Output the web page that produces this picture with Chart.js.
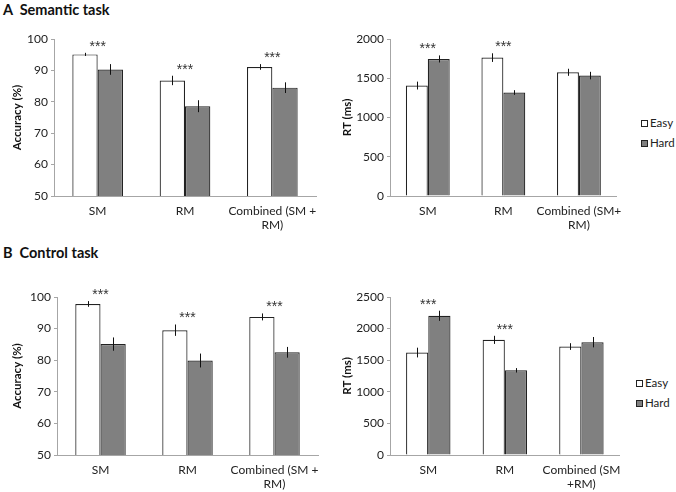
<!DOCTYPE html>
<html>
<head>
<meta charset="utf-8">
<script src="https://cdn.jsdelivr.net/npm/chart.js@4.4.0/dist/chart.umd.min.js"></script>
<style>
  body { margin: 0; background: #fff; font-family: Lato, "Liberation Sans", sans-serif; }
  #page { position: relative; width: 676px; height: 492px; overflow: hidden; }
  canvas { position: absolute; }
  .title { position: absolute; font-weight: bold; font-size: 14.5px; color: #111; white-space: pre; }
  .legend { position: absolute; font-size: 11.5px; color: #222; }
  .legend div { height: 20px; line-height: 20px; display: flex; align-items: center; }
  .legend span.box { width: 5px; height: 5px; border: 1px solid #222; margin-right: 2px; }
</style>
</head>
<body>
<div id="page">
  <div class="title" style="left:3px; top:1px;">A  Semantic task</div>
  <div class="title" style="left:3px; top:244px;">B  Control task</div>

  <canvas id="accA" width="330" height="215" style="left:0px; top:25px;"></canvas>
  <canvas id="rtA" width="294" height="215" style="left:336px; top:25px;"></canvas>
  <canvas id="accB" width="330" height="209" style="left:0px; top:283px;"></canvas>
  <canvas id="rtB" width="294" height="209" style="left:336px; top:283px;"></canvas>

  <div class="legend" style="left:641px; top:113px;">
    <div><span class="box" style="background:#fff"></span>Easy</div>
    <div><span class="box" style="background:#808080"></span>Hard</div>
  </div>
  <div class="legend" style="left:636px; top:373px;">
    <div><span class="box" style="background:#fff"></span>Easy</div>
    <div><span class="box" style="background:#808080"></span>Hard</div>
  </div>
</div>

<script>
const seriesNames = ['Easy', 'Hard'];

// Semantic task
const catsAccA = ['SM', 'RM', ['Combined (SM +', 'RM)']];
const accEasyA = [95.1, 86.8, 91.1];
const accHardA = [90.3, 78.6, 84.5];
const accEasyErrA = [0.5, 1.5, 0.9];
const accHardErrA = [1.7, 1.9, 1.7];
const accSigA = [true, true, true];

const catsRtA = ['SM', 'RM', ['Combined (SM+', 'RM)']];
const rtEasyA = [1407, 1763, 1576];
const rtHardA = [1746, 1318, 1534];
const rtEasyErrA = [50, 55, 45];
const rtHardErrA = [45, 30, 48];
const rtSigA = [true, true, false];

// Control task
const catsAccB = ['SM', 'RM', ['Combined (SM +', 'RM)']];
const accEasyB = [97.8, 89.5, 93.7];
const accHardB = [85.1, 79.9, 82.5];
const accEasyErrB = [0.9, 1.8, 1.1];
const accHardErrB = [2.1, 2.2, 1.7];
const accSigB = [true, true, true];

const catsRtB = ['SM', 'RM', ['Combined (SM', '+RM)']];
const rtEasyB = [1621, 1822, 1716];
const rtHardB = [2203, 1340, 1785];
const rtEasyErrB = [77, 64, 53];
const rtHardErrB = [80, 35, 82];
const rtSigB = [true, true, false];

const accTicks = [50, 60, 70, 80, 90, 100];
const rtTicksA = [0, 500, 1000, 1500, 2000];
const rtTicksB = [0, 500, 1000, 1500, 2000, 2500];

const FONT = 'Lato, "Liberation Sans", sans-serif';

// draws vertical error bars and significance stars
const errorBarsPlugin = {
  id: 'errorBars',
  afterDatasetsDraw(chart, args, opts) {
    const ctx = chart.ctx;
    const y = chart.scales.y;
    const tops = [];
    ctx.save();
    ctx.strokeStyle = '#111';
    ctx.lineWidth = 1;
    chart.data.datasets.forEach((ds, di) => {
      const meta = chart.getDatasetMeta(di);
      meta.data.forEach((bar, i) => {
        const v = ds.data[i], e = ds.errors[i];
        const yTop = y.getPixelForValue(v + e);
        const yBot = y.getPixelForValue(v - e);
        const x = Math.round(bar.x) + 0.5;
        ctx.beginPath();
        ctx.moveTo(x, yTop);
        ctx.lineTo(x, yBot);
        ctx.stroke();
        if (!tops[i]) tops[i] = { xs: [], top: Infinity };
        tops[i].xs.push(bar.x);
        tops[i].top = Math.min(tops[i].top, yTop);
      });
    });
    ctx.fillStyle = '#333';
    ctx.font = '14px "Liberation Sans", sans-serif';
    ctx.textAlign = 'center';
    ctx.textBaseline = 'middle';
    opts.sig.forEach((s, i) => {
      if (!s) return;
      const cx = (tops[i].xs[0] + tops[i].xs[1]) / 2;
      ctx.fillText('***', cx, tops[i].top - 6);
    });
    ctx.restore();
  }
};

function makeChart(id, cats, easy, hard, easyErr, hardErr, sig, ticks, yTitle, yWidth, xHeight, padRight, titlePad) {
  return new Chart(document.getElementById(id), {
    type: 'bar',
    data: {
      labels: cats,
      datasets: [
        { label: seriesNames[0], data: easy, errors: easyErr, backgroundColor: '#ffffff', borderColor: '#222', borderWidth: 1.2 },
        { label: seriesNames[1], data: hard, errors: hardErr, backgroundColor: '#808080', borderColor: '#222', borderWidth: 1.2 }
      ]
    },
    options: {
      responsive: false,
      animation: false,
      events: [],
      layout: { padding: { top: 14, right: padRight, left: 0, bottom: 0 } },
      datasets: { bar: { barPercentage: 1, categoryPercentage: 0.58, borderSkipped: 'bottom' } },
      plugins: {
        legend: { display: false },
        tooltip: { enabled: false },
        errorBars: { sig: sig }
      },
      scales: {
        x: {
          grid: { display: false, drawTicks: false },
          border: { display: true, color: '#a6a6a6', width: 1 },
          ticks: { color: '#222', font: { family: FONT, size: 12 }, padding: 8, maxRotation: 0, autoSkip: false },
          afterFit(scale) { scale.height = xHeight; }
        },
        y: {
          min: ticks[0],
          max: ticks[ticks.length - 1],
          afterBuildTicks(scale) { scale.ticks = ticks.map(v => ({ value: v })); },
          grid: { display: true, drawOnChartArea: false, drawTicks: true, tickLength: 3, color: '#a6a6a6' },
          border: { display: true, color: '#a6a6a6', width: 1 },
          ticks: { color: '#222', font: { family: FONT, size: 12 }, padding: 3, callback: v => String(v) },
          title: { display: true, text: yTitle, color: '#111', font: { family: FONT, size: 11.5, weight: 'bold' }, padding: { top: titlePad, bottom: 0 } },
          afterFit(scale) { scale.width = yWidth; }
        }
      }
    },
    plugins: [errorBarsPlugin]
  });
}

makeChart('accA', catsAccA, accEasyA, accHardA, accEasyErrA, accHardErrA, accSigA, accTicks, 'Accuracy (%)', 54, 44, 14, 10);
makeChart('rtA', catsRtA, rtEasyA, rtHardA, rtEasyErrA, rtHardErrA, rtSigA, rtTicksA, 'RT (ms)', 54, 44, 4, 4);
makeChart('accB', catsAccB, accEasyB, accHardB, accEasyErrB, accHardErrB, accSigB, accTicks, 'Accuracy (%)', 57, 37, 12, 10);
makeChart('rtB', catsRtB, rtEasyB, rtHardB, rtEasyErrB, rtHardErrB, rtSigB, rtTicksB, 'RT (ms)', 54, 37, 10, 4);
</script>
</body>
</html>
